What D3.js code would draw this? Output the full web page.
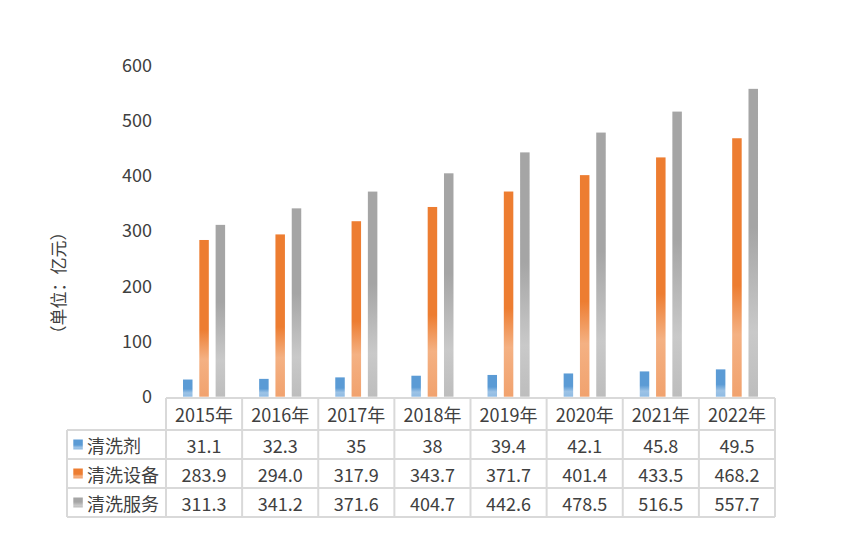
<!DOCTYPE html>
<html><head><meta charset="utf-8">
<script src="https://cdn.jsdelivr.net/npm/d3@7"></script>
<style>
html,body{margin:0;padding:0;background:#fff;}
svg{display:block;}
text{font-family:"Noto Sans CJK SC","Noto Sans",sans-serif;fill:#404040;}
</style></head>
<body>
<svg id="chart" width="851" height="544"></svg>
<script>
const years = ["2015年","2016年","2017年","2018年","2019年","2020年","2021年","2022年"];
const seriesNames = ["清洗剂","清洗设备","清洗服务"];
const detergent = [31.1, 32.3, 35, 38, 39.4, 42.1, 45.8, 49.5];
const equipment = [283.9, 294.0, 317.9, 343.7, 371.7, 401.4, 433.5, 468.2];
const service = [311.3, 341.2, 371.6, 404.7, 442.6, 478.5, 516.5, 557.7];
const detergentLabels = ["31.1","32.3","35","38","39.4","42.1","45.8","49.5"];
const equipmentLabels = ["283.9","294.0","317.9","343.7","371.7","401.4","433.5","468.2"];
const serviceLabels = ["311.3","341.2","371.6","404.7","442.6","478.5","516.5","557.7"];
const yTicks = [0,100,200,300,400,500,600];
const axisTitle = "（单位：亿元）";

const seriesValues = [detergent, equipment, service];
const seriesLabels = [detergentLabels, equipmentLabels, serviceLabels];
const gradStops = [
  [["0%","#5B9BD5"],["55%","#5B9BD5"],["78%","#9DC3E6"],["100%","#8FBBE3"]],
  [["0%","#ED7D31"],["57%","#ED7D31"],["76%","#F4B183"],["100%","#F1A26E"]],
  [["0%","#A5A5A5"],["45%","#A5A5A5"],["79%","#C9C9C9"],["100%","#BDBDBD"]]
];

const svg = d3.select("#chart");
const defs = svg.append("defs");
gradStops.forEach((stops,i)=>{
  const g = defs.append("linearGradient").attr("id","g"+i)
    .attr("x1",0).attr("y1",0).attr("x2",0).attr("y2",1);
  stops.forEach(s=>g.append("stop").attr("offset",s[0]).attr("stop-color",s[1]));
});

const left = 166, right = 775, tableLeft = 67;
const x = d3.scaleBand().domain(years).range([left,right]).paddingInner(0).paddingOuter(0);
const y = d3.scaleLinear().domain([0,600]).range([396.7,65.5]);
const bw = x.bandwidth();
const x1 = d3.scalePoint().domain(seriesNames).range([bw/2-16.3, bw/2+16.3]);
const barW = 9.5;

// y axis labels
const yAxis = d3.axisLeft(y).tickValues(yTicks).tickSize(0).tickPadding(0).tickFormat(d3.format("d"));
const ya = svg.append("g").attr("transform","translate(152,0)").call(yAxis);
ya.select(".domain").remove();
ya.selectAll("text").style("font-size","18px").attr("fill","#404040")
  .style("font-family",'"Noto Sans CJK SC","Noto Sans",sans-serif');

// axis title
svg.append("text").attr("transform","translate(57,283) rotate(-90)")
  .attr("text-anchor","middle").attr("dominant-baseline","central")
  .style("font-size","17px").text(axisTitle);

// bars
seriesNames.forEach((s,i)=>{
  svg.append("g").selectAll("rect").data(seriesValues[i]).join("rect")
    .attr("x",(d,j)=>x(years[j])+x1(s)-barW/2)
    .attr("y",d=>y(d))
    .attr("width",barW)
    .attr("height",d=>y(0)-y(d))
    .attr("fill","url(#g"+i+")");
});

// data table
const rowY = [398,430,459,488,517];
const grid = svg.append("g").attr("stroke","#D9D9D9").attr("stroke-width",2).attr("fill","none");
// header top line
grid.append("line").attr("x1",left).attr("x2",right).attr("y1",rowY[0]).attr("y2",rowY[0]);
// other horizontal lines
rowY.slice(1).forEach(yy=>grid.append("line").attr("x1",tableLeft).attr("x2",right).attr("y1",yy).attr("y2",yy));
// vertical lines
grid.append("line").attr("x1",tableLeft).attr("x2",tableLeft).attr("y1",rowY[1]).attr("y2",rowY[4]);
years.forEach(yr=>grid.append("line").attr("x1",x(yr)).attr("x2",x(yr)).attr("y1",rowY[0]).attr("y2",rowY[4]));
grid.append("line").attr("x1",right).attr("x2",right).attr("y1",rowY[0]).attr("y2",rowY[4]);

// header text
svg.append("g").selectAll("text").data(years).join("text")
  .attr("x",d=>x(d)+bw/2).attr("y",(rowY[0]+rowY[1])/2)
  .attr("text-anchor","middle").attr("dominant-baseline","central")
  .style("font-size","18px").text(d=>d);

// rows
seriesNames.forEach((s,i)=>{
  const cy = (rowY[i+1]+rowY[i+2])/2;
  svg.append("rect").attr("x",73.3).attr("y",cy-5).attr("width",9.5).attr("height",10)
    .attr("fill","url(#g"+i+")");
  svg.append("text").attr("x",87).attr("y",cy).attr("dominant-baseline","central")
    .style("font-size","18px").text(s);
  svg.append("g").selectAll("text").data(seriesLabels[i]).join("text")
    .attr("x",(d,j)=>x(years[j])+bw/2).attr("y",cy)
    .attr("text-anchor","middle").attr("dominant-baseline","central")
    .style("font-size","18px").text(d=>d);
});
</script>
</body></html>
